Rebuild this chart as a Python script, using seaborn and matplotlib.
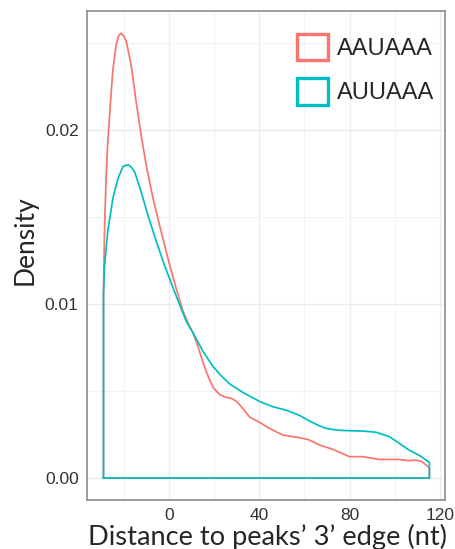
import matplotlib
matplotlib.use("Agg")
import matplotlib.pyplot as plt
from matplotlib.patches import Patch
import numpy as np
import pandas as pd
import seaborn as sns

# Kernel density estimates of motif positions (nt) per hexamer
motifs = ["AAUAAA", "AUUAAA"]
colors = ["#F8766D", "#00BFC4"]

aauaaa_x = [-29.0, -28.5, -27.8, -27.1, -25.9, -24.8, -23.4, -22.2, -21.2, -20.0,
            -18.9, -16.7, -14.5, -12.3, -10.1, -7.1, -4.1, -0.4, 3.2, 6.2,
            8.5, 10.8, 13.0, 15.2, 17.5, 19.6, 22.5, 25.0, 27.7, 30.0,
            32.1, 35.8, 40.2, 44.6, 50.5, 57.9, 62.0, 66.7, 72.6, 77.0,
            80.0, 85.9, 93.3, 102.1, 106.0, 109.5, 112.0, 115.4]
aauaaa_y = [0.0107, 0.0145, 0.0174, 0.0193, 0.0216, 0.0235, 0.0249, 0.02545, 0.02556, 0.0254,
            0.0251, 0.0237, 0.0216, 0.0197, 0.0180, 0.0161, 0.0145, 0.0126, 0.0109, 0.0096,
            0.0089, 0.0083, 0.0075, 0.0066, 0.0058, 0.0052, 0.0048, 0.00465, 0.00458, 0.0044,
            0.0041, 0.0035, 0.0032, 0.00285, 0.00247, 0.00232, 0.0022, 0.0019, 0.00165, 0.0014,
            0.00123, 0.00123, 0.00107, 0.00107, 0.0010, 0.00103, 0.00095, 0.0006]

auuaaa_x = [-29.0, -28.5, -27.1, -24.8, -22.6, -20.4, -19.1, -17.9, -16.6, -15.2,
            -12.3, -9.3, -5.6, -1.9, 2.5, 7.7, 11.3, 15.0, 19.6, 23.0,
            27.0, 33.0, 40.2, 46.0, 52.0, 57.9, 62.0, 66.7, 69.7, 75.0,
            80.0, 86.0, 91.8, 97.7, 102.0, 106.5, 111.0, 115.4]
auuaaa_y = [0.0105, 0.0122, 0.0142, 0.0161, 0.0172, 0.0179, 0.01797, 0.0180, 0.01785, 0.0176,
            0.01645, 0.0151, 0.0136, 0.0122, 0.0107, 0.0090, 0.0082, 0.0073, 0.0064, 0.0059,
            0.0054, 0.0049, 0.0044, 0.0041, 0.0039, 0.0036, 0.0033, 0.0030, 0.00285, 0.00275,
            0.00272, 0.0027, 0.00263, 0.00238, 0.0020, 0.0016, 0.0013, 0.0009]

x_ticks = [0, 40, 80, 120]
y_ticks = [0.00, 0.01, 0.02]
y_tick_labels = ["0.00", "0.01", "0.02"]


def outline(xs, ys):
    """Closed density outline: curve, drop to baseline, back to start."""
    px = [xs[0]] + list(xs) + [xs[-1], xs[0]]
    py = [0.0] + list(ys) + [0.0, 0.0]
    return px, py


frames = []
for name, xs, ys in [(motifs[0], aauaaa_x, aauaaa_y), (motifs[1], auuaaa_x, auuaaa_y)]:
    px, py = outline(xs, ys)
    frames.append(pd.DataFrame({"pos": px, "density": py, "motif": name,
                                "order": np.arange(len(px))}))
df = pd.concat(frames, ignore_index=True)

sns.set_theme(style="white")
plt.rcParams["font.family"] = ["Liberation Sans", "DejaVu Sans"]

fig = plt.figure(figsize=(4.55, 5.49), dpi=100)
ax = fig.add_axes([87 / 455, 1 - 500 / 549, (445 - 87) / 455, (500 - 11) / 549])

sns.lineplot(data=df, x="pos", y="density", hue="motif", palette=colors,
             hue_order=motifs, sort=False, estimator=None, units="motif",
             linewidth=1.25, ax=ax, legend=False)

ax.set_xlim(-36.3, 122.3)
ax.set_ylim(-0.00126, 0.02684)
ax.set_xticks(x_ticks)
ax.set_xticklabels([str(t) for t in x_ticks])
ax.set_yticks(y_ticks)
ax.set_yticklabels(y_tick_labels)
ax.set_xticks([-20, 20, 60, 100], minor=True)
ax.set_yticks([0.005, 0.015, 0.025], minor=True)

ax.grid(True, which="major", color="#EBEBEB", linewidth=1.0)
ax.grid(True, which="minor", color="#F2F2F2", linewidth=0.8)
ax.set_axisbelow(True)
for s in ax.spines.values():
    s.set_color("#8C8C8C")
    s.set_linewidth(1.2)

ax.tick_params(axis="both", which="major", length=3, width=0.8, color="#8C8C8C",
               labelsize=12.5, labelcolor="#333333", pad=3)
ax.tick_params(axis="both", which="minor", length=0)
ax.set_xlabel("")
ax.set_ylabel("")

handles = [Patch(facecolor="none", edgecolor=c, linewidth=2.4, label=m)
           for m, c in zip(motifs, colors)]
ax.legend(handles=handles, loc="upper right", bbox_to_anchor=(0.97, 0.953),
          frameon=False, fontsize=17, handlelength=1.3, handleheight=1.35,
          handletextpad=0.4, labelspacing=0.75, borderaxespad=0.0, borderpad=0.0)

fig.text(25 / 455, 1 - 240 / 549, "Density", rotation=90, ha="center", va="center",
         fontsize=19, family=["Lato", "DejaVu Sans"])
fig.text(267 / 455, 1 - 545 / 549, "Distance to peaks\u2019 3\u2019 edge (nt)",
         ha="center", va="baseline", fontsize=19.6, family=["Lato", "DejaVu Sans"])

fig.savefig("out.png", dpi=100)
